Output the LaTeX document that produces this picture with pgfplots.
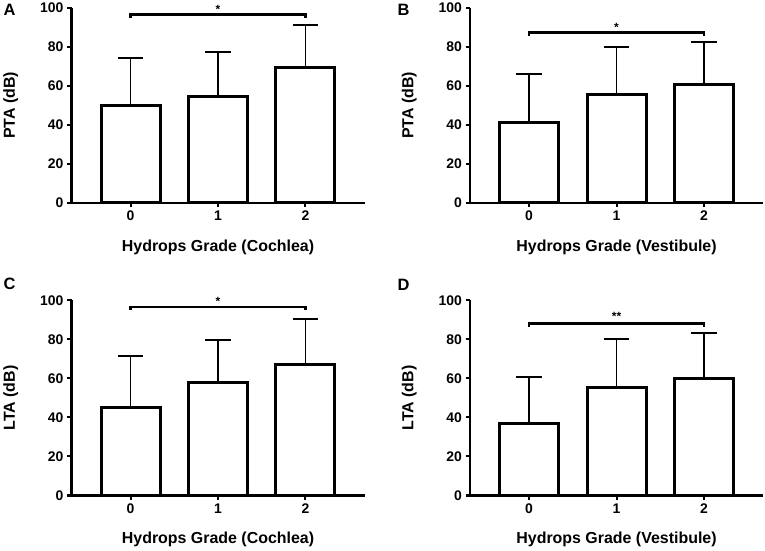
\documentclass[border=0pt]{standalone}
\usepackage{fontspec}
\setmainfont{Liberation Sans}
\usepackage{pgfplots}
\pgfplotsset{compat=1.18}
\pgfplotsset{
  panel/.style={
    scale only axis,
    width=293bp, height=195bp,
    xmin=-0.675, xmax=2.675,
    ymin=0, ymax=100,
    axis x line*=bottom, axis y line*=left,
    axis line style={line width=2.2bp, black, -},
    xtick={0,1,2}, ytick={0,20,40,60,80,100},
    tick style={line width=2bp, black},
    major tick length=4.5bp,
    tick align=outside,
    /pgf/number format/assume math mode=true,
    tick label style={font=\bfseries\fontsize{14}{14}\selectfont},
    label style={font=\bfseries\fontsize{16}{16}\selectfont},
    xlabel style={at={(axis description cs:0.5,-0.226)}, anchor=center},
    ylabel style={at={(axis description cs:-0.207,0.5)}, anchor=center},
    clip=false,
    ybar, bar width=59bp,
  },
  bars/.style={
    fill=white, draw=black, line width=3bp,
    error bars/.cd, y dir=plus, y explicit,
    error bar style={line width=1.9bp, black},
    error mark options={rotate=90, mark size=12.8bp, line width=1.9bp, black},
  },
}
\begin{document}
\begin{tikzpicture}
\useasboundingbox (0,0) rectangle (765bp,551bp);

% Panel A
\begin{axis}[panel, at={(71.5bp,348bp)}, anchor=south west,
  xlabel={Hydrops Grade (Cochlea)}, ylabel={PTA (dB)}]
\addplot[bars] coordinates {(0,50.0) +- (0,24.4) (1,54.5) +- (0,23.0) (2,69.5) +- (0,21.9)};
\draw[line width=2.8bp, black] (axis cs:0,95) |- (axis cs:2,96.6) -- (axis cs:2,95);
\node[font=\bfseries\fontsize{12}{12}\selectfont, anchor=center] at (axis cs:1,99.3) {*};
\end{axis}

% Panel B
\begin{axis}[panel, at={(470bp,348bp)}, anchor=south west,
  xlabel={Hydrops Grade (Vestibule)}, ylabel={PTA (dB)}]
\addplot[bars] coordinates {(0,41.5) +- (0,24.6) (1,55.5) +- (0,24.5) (2,61.0) +- (0,21.5)};
\draw[line width=2.8bp, black] (axis cs:0,85.8) |- (axis cs:2,87.6) -- (axis cs:2,85.8);
\node[font=\bfseries\fontsize{12}{12}\selectfont, anchor=center] at (axis cs:1,90.2) {*};
\end{axis}

% Panel C
\begin{axis}[panel, at={(71.5bp,55.5bp)}, anchor=south west,
  xlabel={Hydrops Grade (Cochlea)}, ylabel={LTA (dB)}]
\addplot[bars] coordinates {(0,45.0) +- (0,26.4) (1,57.7) +- (0,21.9) (2,67.0) +- (0,23.7)};
\draw[line width=2.8bp, black] (axis cs:0,95) |- (axis cs:2,96.7) -- (axis cs:2,95);
\node[font=\bfseries\fontsize{12}{12}\selectfont, anchor=center] at (axis cs:1,99.3) {*};
\end{axis}

% Panel D
\begin{axis}[panel, at={(470bp,55.5bp)}, anchor=south west,
  xlabel={Hydrops Grade (Vestibule)}, ylabel={LTA (dB)}]
\addplot[bars] coordinates {(0,37.0) +- (0,23.8) (1,55.2) +- (0,25.0) (2,60.2) +- (0,23.2)};
\draw[line width=2.8bp, black] (axis cs:0,86.6) |- (axis cs:2,88.4) -- (axis cs:2,86.6);
\node[font=\bfseries\fontsize{12}{12}\selectfont, anchor=center] at (axis cs:1,91.7) {**};
\end{axis}

% Panel letters
\node[font=\bfseries\fontsize{16.5}{16.5}\selectfont] at (9.5bp,541.5bp) {A};
\node[font=\bfseries\fontsize{16.5}{16.5}\selectfont] at (403.5bp,541.5bp) {B};
\node[font=\bfseries\fontsize{16.5}{16.5}\selectfont] at (9.5bp,267.5bp) {C};
\node[font=\bfseries\fontsize{16.5}{16.5}\selectfont] at (403.5bp,266bp) {D};
\end{tikzpicture}
\end{document}
